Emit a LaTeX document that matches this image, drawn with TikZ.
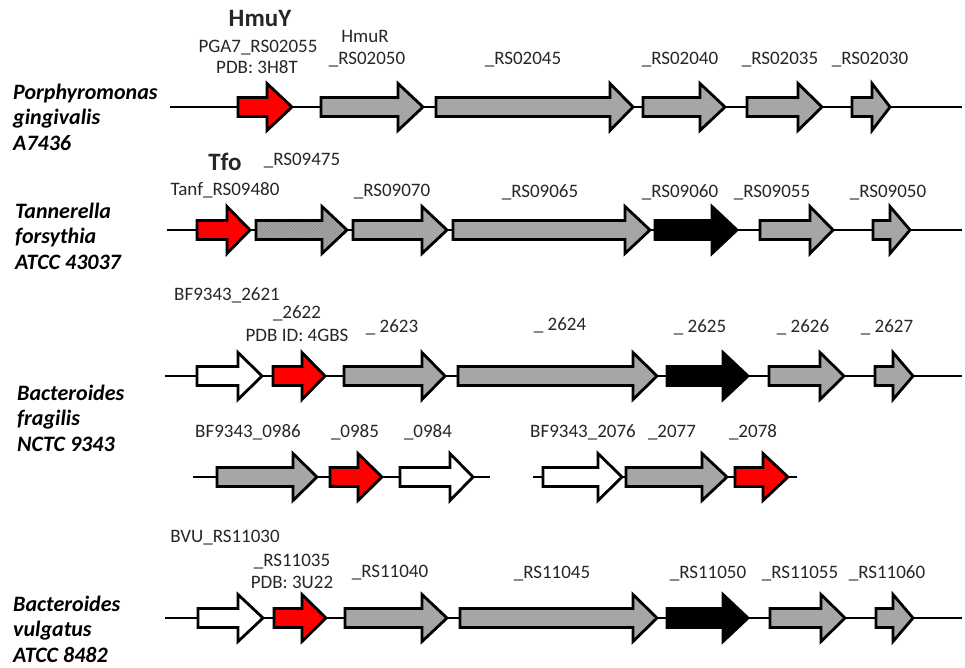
\documentclass[tikz,border=0pt]{standalone}
\usepackage{fontspec}
\setmainfont{Carlito}
\usetikzlibrary{patterns}

\definecolor{genegrey}{RGB}{166,166,166}
\definecolor{genered}{RGB}{255,0,0}

% one gene: style, start, head start, tip, row
\newcommand{\genearrow}[5]{%
  \draw[#1] (#2,{#5-9.5}) -- (#3,{#5-9.5}) -- (#3,{#5-23.5}) -- (#4,#5)
    -- (#3,{#5+23.5}) -- (#3,{#5+9.5}) -- (#2,{#5+9.5}) -- cycle;}

\begin{document}
\begin{tikzpicture}[x=1pt, y=-1pt,
    gene/.style={draw=black, line width=2.8pt, line join=miter},
    grey gene/.style={gene, fill=genegrey},
    red gene/.style={gene, fill=genered},
    black gene/.style={gene, fill=black},
    white gene/.style={gene, fill=white},
    hatch gene/.style={gene, preaction={fill=genegrey},
      pattern=north east lines, pattern color=black!45},
    backbone/.style={line width=1.6pt},
    lbl/.style={anchor=base, inner sep=0pt, text=black!85,
      font=\fontsize{19}{21}\selectfont},
    protname/.style={lbl, font=\fontsize{25}{27}\selectfont\bfseries},
    org/.style={anchor=west, inner sep=0pt, align=left,
      font=\fontsize{22}{25.5}\selectfont\bfseries\itshape}]
\useasboundingbox (0,0) rectangle (965,667);

% Porphyromonas gingivalis
\node[org] (pg) at (13,117) {Porphyromonas\\gingivalis\\A7436};
\draw[backbone] (170,107) -- (962,107);
\genearrow{red gene}{238}{267}{292}{107}
\genearrow{grey gene}{321}{398}{423}{107}
\genearrow{grey gene}{436}{610}{633}{107}
\genearrow{grey gene}{643}{700}{725}{107}
\genearrow{grey gene}{747}{798}{822}{107}
\genearrow{grey gene}{852}{872}{890}{107}
\node[protname] (hmuy) at (260,26) {HmuY};
\node[lbl] (pga) at (258,52) {PGA7\_RS02055};
\node[lbl] (pdb1) at (257,73) {PDB: 3H8T};
\node[lbl] (hmur) at (365,42) {HmuR};
\node[lbl] (rs50) at (367,64) {\_RS02050};
\node[lbl] (rs45) at (523,64) {\_RS02045};
\node[lbl] (rs40) at (680,64) {\_RS02040};
\node[lbl] (rs35) at (780,64) {\_RS02035};
\node[lbl] (rs30) at (870,64) {\_RS02030};

% Tannerella forsythia
\node[org] (tf) at (15,236) {Tannerella\\forsythia\\ATCC 43037};
\draw[backbone] (167,230) -- (962,230);
\genearrow{red gene}{197}{227}{250}{230}
\genearrow{hatch gene}{256}{322}{347}{230}
\genearrow{grey gene}{353}{422}{447}{230}
\genearrow{grey gene}{453}{625}{650}{230}
\genearrow{black gene}{655}{712}{737}{230}
\genearrow{grey gene}{760}{810}{833}{230}
\genearrow{grey gene}{873}{890}{910}{230}
\node[protname] (tfo) at (225,170) {Tfo};
\node[lbl] (rs75) at (302,165) {\_RS09475};
\node[lbl] (tanf) at (225,195) {Tanf\_RS09480};
\node[lbl] (rs70) at (392,196) {\_RS09070};
\node[lbl] (rs65) at (540,197) {\_RS09065};
\node[lbl] (rs60) at (680,197) {\_RS09060};
\node[lbl] (rs55) at (772,197) {\_RS09055};
\node[lbl] (rs50b) at (888,197) {\_RS09050};

% Bacteroides fragilis
\node[org] (bf) at (17,418) {Bacteroides\\fragilis\\NCTC 9343};
\draw[backbone] (165,376) -- (962,376);
\genearrow{white gene}{197}{238}{262}{376}
\genearrow{red gene}{273}{302}{325}{376}
\genearrow{grey gene}{344}{422}{445}{376}
\genearrow{grey gene}{458}{633}{657}{376}
\genearrow{black gene}{667}{723}{748}{376}
\genearrow{grey gene}{769}{820}{844}{376}
\genearrow{grey gene}{875}{893}{913}{376}
\node[lbl] (b21) at (227,300) {BF9343\_2621};
\node[lbl] (b22) at (297,318) {\_2622};
\node[lbl] (pdb2) at (297,341) {PDB ID: 4GBS};
\node[lbl] (b23) at (392,332) {\_ 2623};
\node[lbl] (b24) at (560,330) {\_ 2624};
\node[lbl] (b25) at (700,332) {\_ 2625};
\node[lbl] (b26) at (803,332) {\_ 2626};
\node[lbl] (b27) at (887,332) {\_ 2627};

\draw[backbone] (193,477) -- (490,477);
\genearrow{grey gene}{217}{293}{317}{477}
\genearrow{red gene}{330}{358}{382}{477}
\genearrow{white gene}{400}{450}{473}{477}
\node[lbl] (b86) at (248,437) {BF9343\_0986};
\node[lbl] (b85) at (355,437) {\_0985};
\node[lbl] (b84) at (428,437) {\_0984};

\draw[backbone] (533,477) -- (797,477);
\genearrow{white gene}{543}{598}{622}{477}
\genearrow{grey gene}{626}{702}{727}{477}
\genearrow{red gene}{735}{763}{788}{477}
\node[lbl] (b76) at (583,437) {BF9343\_2076};
\node[lbl] (b77) at (672,437) {\_2077};
\node[lbl] (b78) at (753,437) {\_2078};

% Bacteroides vulgatus
\node[org] (bv) at (13,629) {Bacteroides\\vulgatus\\ATCC 8482};
\draw[backbone] (165,618) -- (962,618);
\genearrow{white gene}{198}{238}{263}{618}
\genearrow{red gene}{274}{302}{326}{618}
\genearrow{grey gene}{345}{422}{447}{618}
\genearrow{grey gene}{460}{633}{657}{618}
\genearrow{black gene}{667}{723}{748}{618}
\genearrow{grey gene}{770}{821}{845}{618}
\genearrow{grey gene}{876}{893}{913}{618}
\node[lbl] (v30) at (225,542) {BVU\_RS11030};
\node[lbl] (v35) at (292,566) {\_RS11035};
\node[lbl] (pdb3) at (292,588) {PDB: 3U22};
\node[lbl] (v40) at (390,577) {\_RS11040};
\node[lbl] (v45) at (552,578) {\_RS11045};
\node[lbl] (v50) at (708,578) {\_RS11050};
\node[lbl] (v55) at (800,578) {\_RS11055};
\node[lbl] (v60) at (887,578) {\_RS11060};
\end{tikzpicture}
\end{document}
